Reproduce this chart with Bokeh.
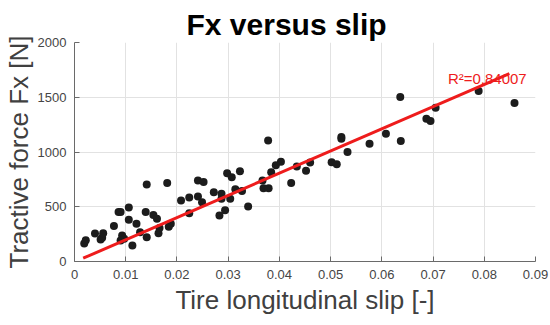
from bokeh.plotting import figure
from bokeh.models import Range1d, FixedTicker, Label
from bokeh.embed import file_html
from bokeh.resources import INLINE

# ---------------- data ----------------
slip = [0.0019, 0.0022, 0.0040, 0.0051, 0.0054, 0.0056, 0.0077, 0.0086, 0.0090, 0.0106,
        0.0106, 0.0093, 0.0097, 0.0090, 0.0113, 0.0121, 0.0128, 0.0141, 0.0139, 0.0141,
        0.0154, 0.0161, 0.0164, 0.0166, 0.0181, 0.0184, 0.0188, 0.0208, 0.0224, 0.0224,
        0.0241, 0.0252, 0.0241, 0.0249, 0.0272, 0.0287, 0.0287, 0.0304, 0.0283, 0.0294,
        0.0298, 0.0307, 0.0314, 0.0323, 0.0327, 0.0339, 0.0367, 0.0369, 0.0379, 0.0378,
        0.0384, 0.0393, 0.0403, 0.0423, 0.0434, 0.0452, 0.0460, 0.0502, 0.0512, 0.0521,
        0.0521, 0.0533, 0.0576, 0.0608, 0.0636, 0.0637, 0.0687, 0.0695, 0.0705, 0.0789,
        0.0859]
fx = [165, 195, 255, 200, 217, 259, 325, 451, 451, 493,
      381, 238, 207, 192, 146, 345, 268, 704, 451, 222,
      425, 390, 259, 305, 717, 317, 345, 558, 585, 441,
      740, 725, 594, 542, 633, 619, 573, 573, 420, 469,
      807, 770, 660, 825, 643, 503, 740, 670, 670, 1106,
      816, 880, 910, 716, 868, 828, 903, 907, 887, 1136,
      1121, 999, 1076, 1167, 1502, 1100, 1304, 1283, 1405, 1557,
      1447]

fit_x = [0.0017, 0.0849]
fit_y = [30, 1716]
r2_text = "R²=0.84007"

x_ticks = [0, 0.01, 0.02, 0.03, 0.04, 0.05, 0.06, 0.07, 0.08, 0.09]
x_tick_labels = ["0", "0.01", "0.02", "0.03", "0.04", "0.05", "0.06", "0.07", "0.08", "0.09"]
y_ticks = [0, 500, 1000, 1500, 2000]

title_text = "Fx versus slip"
xlabel_text = "Tire longitudinal slip [-]"
ylabel_text = "Tractive force Fx [N]"

# ---------------- layout ----------------
FONT = "Liberation Sans"
W, H = 550, 325
X0, X1, Y0, Y1 = 0.0, 0.09, 0.0, 2000.0
FRAME_L, FRAME_T, FRAME_R, FRAME_B = 72, 42, 535, 261  # page pixels

def dx(px):
    return X0 + (px - FRAME_L) * (X1 - X0) / (FRAME_R - FRAME_L)

def dy(py):
    return Y0 + (FRAME_B - py) * (Y1 - Y0) / (FRAME_B - FRAME_T)

p = figure(width=W, height=H, output_backend="svg", toolbar_location=None,
           x_range=Range1d(X0, X1), y_range=Range1d(Y0, Y1),
           min_border_left=FRAME_L, min_border_top=FRAME_T,
           min_border_right=W - FRAME_R, min_border_bottom=H - FRAME_B)
p.outline_line_color = None
p.background_fill_color = "white"
p.border_fill_color = "white"

p.title.text = title_text
p.title.text_font = FONT
p.title.text_font_size = "30px"
p.title.text_font_style = "bold"
p.title.text_color = "black"
p.title.align = "left"
p.title.offset = 112
p.title.standoff = 3

for ax in (p.xaxis[0], p.yaxis[0]):
    ax.axis_line_color = "#6a6a6a"
    ax.major_tick_line_color = "#6a6a6a"
    ax.major_tick_in = 5
    ax.major_tick_out = 0
    ax.minor_tick_line_color = None
    ax.major_label_text_font = FONT
    ax.major_label_text_font_size = "13px"
    ax.major_label_text_color = "#454545"
    ax.major_label_standoff = 8
    ax.axis_label_text_font = FONT
    ax.axis_label_text_font_size = "26px"
    ax.axis_label_text_font_style = "normal"
    ax.axis_label_text_color = "#404040"

p.xaxis.axis_label = xlabel_text
p.xaxis.axis_label_standoff = 3
p.yaxis.axis_label = ylabel_text
p.yaxis.axis_label_standoff = 1

p.xaxis.ticker = FixedTicker(ticks=x_ticks)
p.xaxis.major_label_overrides = {t: l for t, l in zip(x_ticks, x_tick_labels)}
p.yaxis.ticker = FixedTicker(ticks=y_ticks)

p.xgrid.ticker = FixedTicker(ticks=x_ticks)
p.ygrid.ticker = FixedTicker(ticks=y_ticks)
p.grid.grid_line_color = "#e2e2e2"
p.grid.grid_line_width = 1

p.scatter(slip, fx, size=8, fill_color="#1c1c1c", line_color=None)
p.line(fit_x, fit_y, line_color="#ee1c1c", line_width=3)

p.add_layout(Label(x=dx(447), y=dy(78), text=r2_text, text_font=FONT, text_font_size="15px",
                   text_color="#ee1c1c", text_align="left", text_baseline="alphabetic"))

open("out.html", "w").write(file_html(p, INLINE))
